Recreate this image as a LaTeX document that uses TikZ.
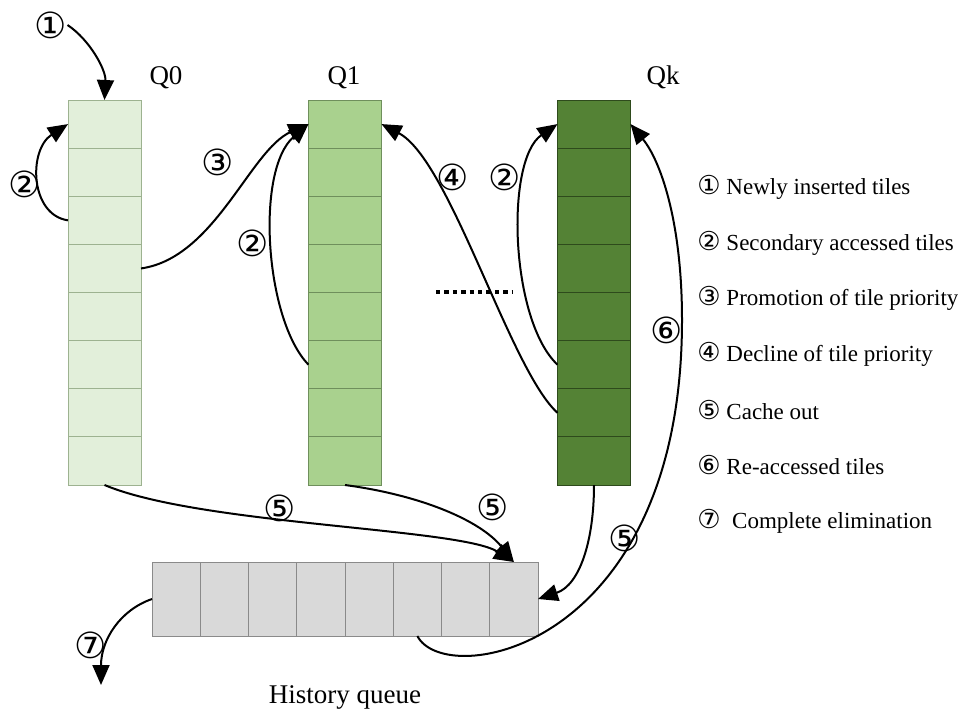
\documentclass[tikz,border=0pt]{standalone}
\usepackage{fontspec}
\setmainfont{Liberation Serif}
\newfontfamily\circfont{DejaVu Sans}
\usetikzlibrary{calc,arrows.meta}

\definecolor{qzerofill}{HTML}{E2EFDA}
\definecolor{qzeroline}{HTML}{9DB290}
\definecolor{qonefill}{HTML}{A9D18E}
\definecolor{qoneline}{HTML}{6F8F5C}
\definecolor{qkfill}{HTML}{548235}
\definecolor{qkline}{HTML}{2E4A1C}
\definecolor{histfill}{HTML}{D9D9D9}
\definecolor{histline}{HTML}{8A8A8A}

\newcommand{\legdigit}[1]{{\circfont\fontsize{13}{13}\selectfont #1}}

\tikzset{
  tilecol/.style={draw, rectangle, inner sep=0pt, outer sep=0pt,
    minimum width=36.5pt, minimum height=192.5pt, line width=0.5pt},
  histbox/.style={draw=histline, fill=histfill, rectangle, inner sep=0pt,
    outer sep=0pt, minimum width=193pt, minimum height=37pt, line width=0.5pt},
  arr/.style={-{Triangle[length=10pt,width=8.5pt]}, line width=1pt},
  num/.style={inner sep=0pt, font=\circfont\fontsize{18}{18}\selectfont},
  qlabel/.style={anchor=base, inner sep=0pt, font=\fontsize{13.5}{16}\selectfont},
  legend/.style={anchor=west, inner sep=0pt, font=\fontsize{11.5}{14}\selectfont}
}

\begin{document}
\begin{tikzpicture}[x=0.5pt,y=0.5pt]

\useasboundingbox (0,0) rectangle (958,-709);

% Queues
\node[tilecol, draw=qzeroline, fill=qzerofill] (q0) at (104.5,-292.5) {};
\node[tilecol, draw=qoneline, fill=qonefill] (q1) at (345,-292.5) {};
\node[tilecol, draw=qkline, fill=qkfill] (qk) at (594,-292.5) {};

% Cells of the queues
\foreach \q/\c in {q0/qzeroline, q1/qoneline, qk/qkline}
  \foreach \i in {1,...,7}
    \draw[\c, line width=0.5pt] ($(\q.north west)!\i/8!(\q.south west)$) -- ($(\q.north east)!\i/8!(\q.south east)$);

% Ports at the middle of each cell
\foreach \q in {q0,q1,qk}
  \foreach \i in {1,...,8} {
    \coordinate (\q-w\i) at ($(\q.north west)!{(\i-0.5)/8}!(\q.south west)$);
    \coordinate (\q-e\i) at ($(\q.north east)!{(\i-0.5)/8}!(\q.south east)$);
  }

% History queue
\node[histbox] (hist) at (345,-599) {};
\foreach \i in {1,...,7}
  \draw[histline, line width=0.5pt] ($(hist.north west)!\i/8!(hist.north east)$) -- ($(hist.south west)!\i/8!(hist.south east)$);
\coordinate (hist-n8) at ($(hist.north west)!7.5/8!(hist.north east)$);
\coordinate (hist-s6) at ($(hist.south west)!5.5/8!(hist.south east)$);
\coordinate (out7) at (101,-685);

% Queue labels
\node[qlabel] (lab-q0) at (166,-84) {Q0};
\node[qlabel] (lab-q1) at (344,-84) {Q1};
\node[qlabel] (lab-qk) at (663,-84) {Qk};
\node[qlabel] (lab-hist) at (345,-703) {History queue};

% Dots between Q1 and Qk
\coordinate (dots-l) at (436,-292);
\coordinate (dots-r) at (513,-292);
\draw[line width=2pt, dash pattern=on 2.2pt off 2pt] (dots-l) -- (dots-r);

% Step numbers
\node[num] (n1) at (51,-25) {①};
\node[num] (n2a) at (25,-184) {②};
\node[num] (n3) at (218,-162) {③};
\node[num] (n2b) at (253,-243) {②};
\node[num] (n4) at (453,-177) {④};
\node[num] (n2c) at (505,-177) {②};
\node[num] (n6) at (667,-330) {⑥};
\node[num] (n5a) at (280,-508) {⑤};
\node[num] (n5b) at (493,-507) {⑤};
\node[num] (n5c) at (625,-538) {⑤};
\node[num] (n7) at (91,-645) {⑦};

% Arrows
\draw[arr] (n1.east) .. controls (90,-40) and (106,-70) .. (q0.north);
\draw[arr] (q0-w3) .. controls (30,-215) and (28,-150) .. (q0-w1);
\draw[arr] (q0-e4) .. controls (215,-258) and (250,-150) .. (q1-w1);
\draw[arr] (q1-w6) .. controls (265,-320) and (255,-170) .. (q1-w1);
\draw[arr] (qk-w7) .. controls (510,-370) and (450,-160) .. (q1-e1);
\draw[arr] (qk-w6) .. controls (510,-320) and (505,-160) .. (qk-w1);
\draw[arr] (q0.south) .. controls (200,-525) and (460,-528) .. (hist-n8);
\draw[arr] (q1.south) .. controls (420,-495) and (480,-520) .. (hist-n8);
\draw[arr] (qk.south) .. controls (594,-540) and (580,-585) .. (hist.east);
\draw[arr] (hist-s6) .. controls (445,-690) and (682,-650) .. (682,-320)
  .. controls (682,-220) and (660,-160) .. (qk-e1);
\draw[arr] (hist.west) .. controls (120,-610) and (101,-640) .. (out7);

% Legend
\node[legend] (leg1) at (697,-187) {\legdigit{①} Newly inserted tiles};
\node[legend] (leg2) at (697,-243) {\legdigit{②} Secondary accessed tiles};
\node[legend] (leg3) at (697,-298) {\legdigit{③} Promotion of tile priority};
\node[legend] (leg4) at (697,-354) {\legdigit{④} Decline of tile priority};
\node[legend] (leg5) at (697,-410) {\legdigit{⑤} Cache out};
\node[legend] (leg6) at (697,-465) {\legdigit{⑥} Re-accessed tiles};
\node[legend] (leg7) at (697,-521) {\legdigit{⑦}\ \ Complete elimination};

\end{tikzpicture}
\end{document}
